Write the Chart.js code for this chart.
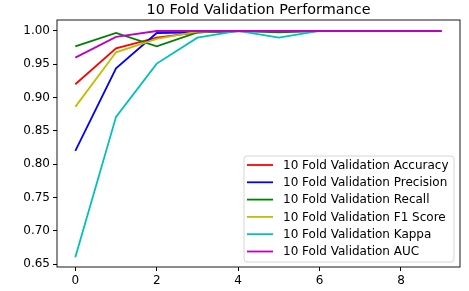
<!DOCTYPE html>
<html>
<head>
<meta charset="utf-8">
<script src="https://cdn.jsdelivr.net/npm/chart.js@4.4.1/dist/chart.umd.min.js"></script>
<style>
  html, body { margin: 0; padding: 0; background: #fff; }
  #wrap { width: 469px; height: 291px; }
</style>
</head>
<body>
<div id="wrap"><canvas id="chart" width="469" height="291"></canvas></div>
<script>
const TITLE = "10 Fold Validation Performance";
const folds = [0, 1, 2, 3, 4, 5, 6, 7, 8, 9];
const xTicks = [0, 2, 4, 6, 8];
const yTicks = [0.65, 0.70, 0.75, 0.80, 0.85, 0.90, 0.95, 1.00];

const accuracy  = [0.920, 0.974, 0.990, 0.998, 1.000, 1.000, 1.000, 1.000, 1.000, 1.000];
const precision = [0.820, 0.944, 0.997, 0.998, 1.000, 1.000, 1.000, 1.000, 1.000, 1.000];
const recall    = [0.977, 0.997, 0.977, 0.998, 1.000, 0.998, 1.000, 1.000, 1.000, 1.000];
const f1score   = [0.886, 0.968, 0.988, 0.999, 1.000, 1.000, 1.000, 1.000, 1.000, 1.000];
const kappa     = [0.660, 0.871, 0.951, 0.990, 1.000, 0.990, 1.000, 1.000, 1.000, 1.000];
const auc       = [0.960, 0.991, 1.000, 1.000, 1.000, 1.000, 1.000, 1.000, 1.000, 1.000];

const seriesNames = [
  "10 Fold Validation Accuracy",
  "10 Fold Validation Precision",
  "10 Fold Validation Recall",
  "10 Fold Validation F1 Score",
  "10 Fold Validation Kappa",
  "10 Fold Validation AUC"
];
const seriesValues = [accuracy, precision, recall, f1score, kappa, auc];
const seriesColors = ["#ff0000", "#0000ff", "#008000", "#bfbf00", "#00bfbf", "#bf00bf"];

const FONT = "DejaVu Sans";

// matplotlib draws later lines on top, chart.js lower order on top
const datasets = seriesNames.map((name, i) => ({
  label: name,
  data: folds.map((f, j) => ({ x: f, y: seriesValues[i][j] })),
  borderColor: seriesColors[i],
  backgroundColor: seriesColors[i],
  borderWidth: 1.8,
  pointRadius: 0,
  tension: 0,
  fill: false,
  order: seriesNames.length - i
}));

const frame = {
  id: "frame",
  afterDatasetsDraw(chart) {
    const { ctx, chartArea: a } = chart;
    ctx.save();
    ctx.strokeStyle = "#000";
    ctx.lineWidth = 0.9;
    ctx.strokeRect(a.left, a.top, a.right - a.left, a.bottom - a.top);
    // title over the axes
    ctx.fillStyle = "#000";
    ctx.font = `14.4px '${FONT}'`;
    ctx.textAlign = "center";
    ctx.textBaseline = "alphabetic";
    ctx.fillText(TITLE, (a.left + a.right) / 2, 13.5);
    ctx.restore();
  }
};

const boxLegend = {
  id: "boxLegend",
  afterDraw(chart) {
    const { ctx } = chart;
    const x0 = 244, y0 = 156, w = 210, h = 106, r = 3;
    ctx.save();
    ctx.beginPath();
    ctx.moveTo(x0 + r, y0);
    ctx.arcTo(x0 + w, y0, x0 + w, y0 + h, r);
    ctx.arcTo(x0 + w, y0 + h, x0, y0 + h, r);
    ctx.arcTo(x0, y0 + h, x0, y0, r);
    ctx.arcTo(x0, y0, x0 + w, y0, r);
    ctx.closePath();
    ctx.fillStyle = "rgba(255,255,255,0.8)";
    ctx.fill();
    ctx.strokeStyle = "rgba(204,204,204,0.8)";
    ctx.lineWidth = 1;
    ctx.stroke();
    ctx.font = `12px '${FONT}'`;
    ctx.textBaseline = "middle";
    chart.data.datasets.forEach((ds, i) => {
      const yy = y0 + 9 + i * 17.3;
      ctx.strokeStyle = ds.borderColor;
      ctx.lineWidth = 1.8;
      ctx.beginPath();
      ctx.moveTo(x0 + 3, yy);
      ctx.lineTo(x0 + 29, yy);
      ctx.stroke();
      ctx.fillStyle = "#000";
      ctx.fillText(ds.label, x0 + 39, yy + 0.5);
    });
    ctx.restore();
  }
};

new Chart(document.getElementById("chart"), {
  type: "line",
  data: { datasets },
  options: {
    responsive: false,
    animation: false,
    layout: { padding: { top: 20, right: 9, left: 0, bottom: 0 } },
    plugins: { legend: { display: false }, title: { display: false }, tooltip: { enabled: false } },
    scales: {
      x: {
        type: "linear",
        min: -0.45,
        max: 9.45,
        afterBuildTicks: (s) => { s.ticks = xTicks.map(v => ({ value: v })); },
        afterFit: (s) => { s.height = 24; },
        grid: { drawOnChartArea: false, drawTicks: true, tickLength: 4, color: "#000" },
        border: { display: false },
        ticks: { color: "#000", padding: 3, maxRotation: 0, font: { family: FONT, size: 12 },
          callback: (v) => String(v) }
      },
      y: {
        type: "linear",
        min: 0.6455,
        max: 1.0165,
        afterBuildTicks: (s) => { s.ticks = yTicks.map(v => ({ value: v })); },
        afterFit: (s) => { s.width = 57; },
        grid: { drawOnChartArea: false, drawTicks: true, tickLength: 4, color: "#000" },
        border: { display: false },
        ticks: { color: "#000", padding: 3, font: { family: FONT, size: 12 },
          callback: (v) => Number(v).toFixed(2) }
      }
    }
  },
  plugins: [frame, boxLegend]
});
</script>
</body>
</html>
